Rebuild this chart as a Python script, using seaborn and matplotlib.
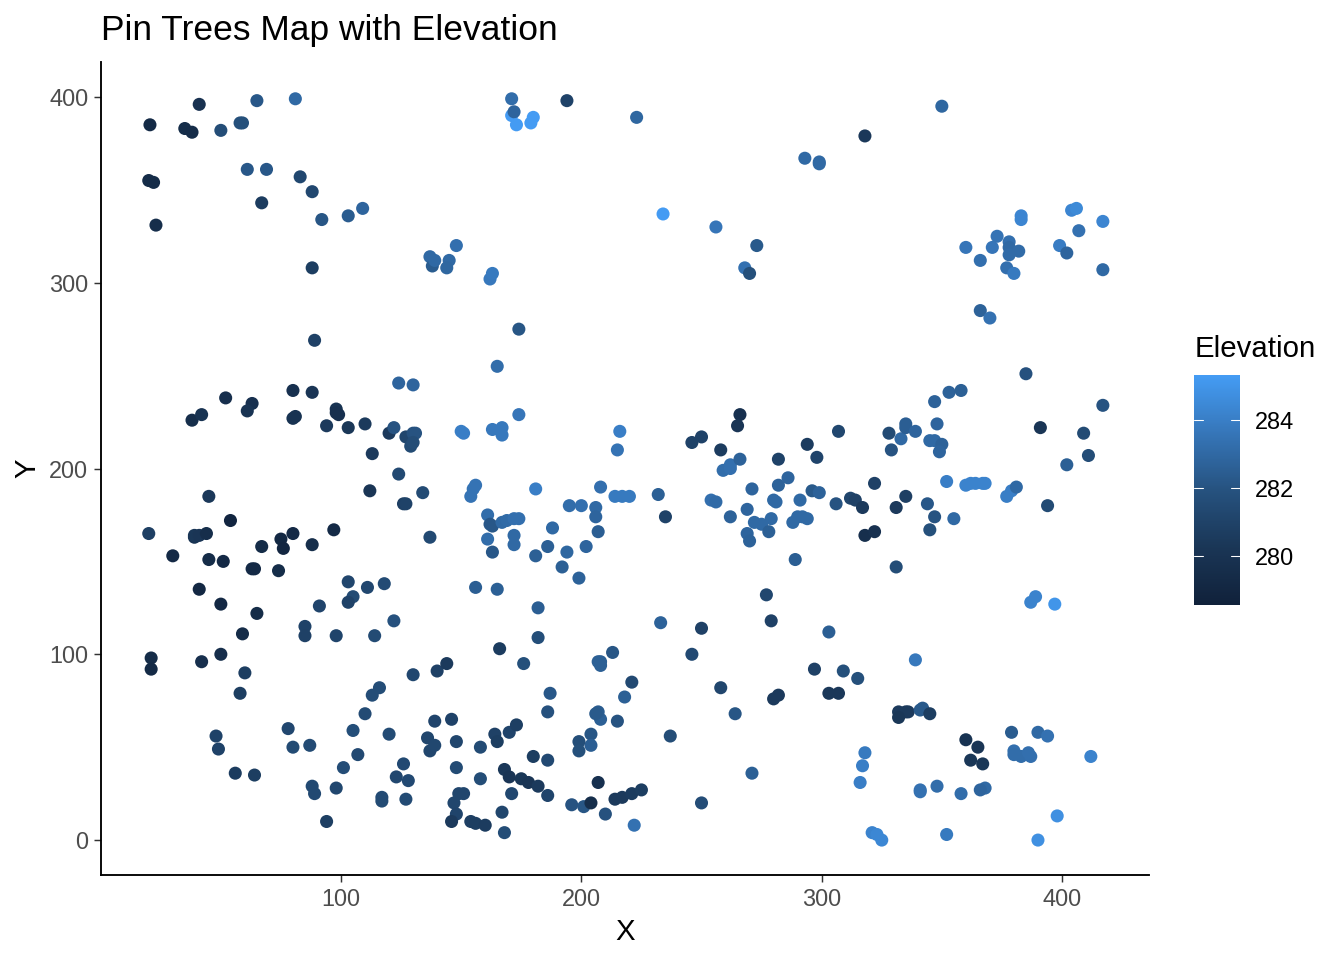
import numpy as np
import pandas as pd
import matplotlib
matplotlib.use('Agg')
import matplotlib.pyplot as plt
import seaborn as sns
from matplotlib.cm import ScalarMappable
from matplotlib.colors import LinearSegmentedColormap, Normalize

# values, one block per area of the map
nw_x = [20.5, 35, 38, 41, 50, 58, 59, 65, 81, 20, 22, 23, 61, 69, 67, 83, 88, 92, 103, 109, 88, 89]
nw_y = [385, 383, 381, 396, 382, 386, 386, 398, 399, 355, 354, 331, 361, 361, 343, 357, 349, 334, 336, 340, 308, 269]
nw_z = [279.3, 279.5, 279.4, 279.9, 281.6, 281.8, 281.8, 282.2, 283.0, 279.4, 279.4, 279.6, 282.2, 282.2, 280.6, 281.3, 281.3, 282.1, 282.4, 282.8, 280.7, 280.9]

n_x = [171, 171, 172, 173, 179, 180, 194, 223, 137, 138, 139, 145, 144, 148, 162, 163, 234, 174, 165]
n_y = [399, 390, 392, 385, 386, 389, 398, 389, 314, 309, 312, 312, 308, 320, 302, 305, 337, 275, 255]
n_z = [283.2, 285.3, 282.8, 285.3, 285.3, 285.3, 281.0, 282.9, 283.0, 282.4, 283.0, 283.0, 282.9, 283.3, 283.7, 283.8, 285.3, 282.1, 283.2]

ne_x = [256, 273, 268, 270, 293, 299, 299, 318, 350, 360, 366, 371, 373, 378, 378, 378, 377, 380, 382, 383, 383, 399, 402, 404, 406, 407, 417, 417, 366, 370, 385]
ne_y = [330, 320, 308, 305, 367, 365, 364, 379, 395, 319, 312, 319, 325, 322, 319, 315, 308, 305, 317, 336, 334, 320, 316, 339, 340, 328, 333, 307, 285, 281, 251]
ne_z = [283.6, 282.3, 283.4, 281.8, 283.0, 283.0, 283.0, 280.4, 282.9, 283.6, 283.3, 283.6, 283.5, 283.3, 283.0, 283.1, 283.3, 283.8, 283.1, 284.3, 284.3, 283.9, 282.8, 284.3, 284.5, 283.4, 284.3, 283.0, 282.7, 283.4, 281.9]

mid_w_x = [124, 130, 80, 88, 52, 63, 61, 38, 42, 80, 81, 94, 98, 98, 99, 103, 110, 120, 122, 127, 130, 131, 129, 130, 113, 124, 112, 126, 127, 134, 137]
mid_w_y = [246, 245, 242, 241, 238, 235, 231, 226, 229, 227, 228, 223, 232, 230, 229, 222, 224, 219, 222, 217, 219, 219, 212, 214, 208, 197, 188, 181, 181, 187, 163]
mid_w_z = [282.8, 282.8, 279.8, 280.2, 279.7, 279.8, 280.1, 279.6, 280.0, 280.0, 280.0, 280.5, 280.0, 279.8, 279.8, 280.3, 280.5, 280.5, 282.0, 281.2, 281.9, 282.0, 281.5, 281.6, 280.5, 281.4, 280.2, 280.8, 281.0, 281.5, 281.4]

mid_c_x = [150, 151, 163, 167, 167, 174, 156, 155, 154, 161, 162, 163, 161, 163, 167, 169, 172, 174, 172, 172, 181, 181, 186, 188, 192, 194, 195, 200, 199, 202, 206, 206, 207, 208, 214, 217, 220, 215, 216, 232, 235]
mid_c_y = [220, 219, 221, 222, 218, 229, 191, 189, 185, 175, 170, 169, 162, 155, 171, 172, 173, 173, 164, 159, 153, 189, 158, 168, 147, 155, 180, 180, 141, 158, 179, 174, 166, 190, 185, 185, 185, 210, 220, 186, 174]
mid_c_z = [284.0, 284.0, 283.7, 283.7, 283.7, 283.6, 283.5, 283.5, 283.5, 283.2, 282.2, 282.2, 283.2, 282.2, 283.0, 283.1, 283.3, 283.3, 283.0, 283.0, 282.6, 284.0, 282.6, 283.0, 282.6, 282.9, 283.2, 283.3, 282.7, 282.8, 283.0, 282.8, 282.5, 283.3, 283.8, 283.8, 283.8, 283.5, 284.0, 282.6, 281.0]

west_x = [20, 45, 30, 39, 39, 41, 44, 45, 51, 54, 67, 63, 64, 74, 75, 76, 80, 88, 97, 41, 50, 65, 59, 91, 85, 85, 98, 103, 105, 103, 111, 118, 122, 114, 21, 21, 42, 50, 60, 58]
west_y = [165, 185, 153, 163, 164, 164, 165, 151, 150, 172, 158, 146, 146, 145, 162, 157, 165, 159, 167, 135, 127, 122, 111, 126, 115, 110, 110, 139, 131, 128, 136, 138, 118, 110, 98, 92, 96, 100, 90, 79]
west_z = [280.8, 280.4, 279.2, 280.0, 280.3, 280.2, 279.6, 279.4, 279.2, 278.9, 279.4, 279.3, 279.2, 279.5, 279.1, 279.0, 279.2, 279.6, 279.3, 279.1, 279.1, 279.4, 279.4, 281.1, 281.0, 280.9, 281.1, 281.2, 281.5, 281.0, 281.3, 281.5, 281.9, 281.5, 279.4, 279.3, 279.7, 279.6, 280.7, 280.7]

mid_s_x = [156, 165, 182, 182, 166, 176, 233, 250, 246, 258, 264, 213, 207, 208, 208, 218, 221, 215, 208, 207, 206, 204, 204, 199, 199, 237]
mid_s_y = [136, 135, 125, 109, 103, 95, 117, 114, 100, 82, 68, 101, 96, 94, 96, 77, 85, 64, 65, 69, 68, 57, 51, 53, 48, 56]
mid_s_z = [282.5, 282.6, 282.5, 281.7, 280.6, 281.8, 282.7, 280.9, 281.4, 281.2, 282.1, 282.1, 282.6, 282.6, 282.6, 282.6, 281.4, 282.0, 282.6, 282.4, 282.3, 282.1, 282.5, 281.7, 281.8, 281.6]

east_x = [246, 250, 258, 266, 265, 259, 262, 262, 266, 282, 254, 256, 262, 269, 271, 272, 275, 269, 270, 278, 279, 280, 281, 282, 286, 288, 291, 290, 292, 294, 296, 299, 298, 294, 307, 289, 277, 279]
east_y = [214, 217, 210, 229, 223, 199, 200, 202, 205, 205, 183, 182, 174, 178, 189, 171, 170, 165, 161, 166, 173, 183, 182, 191, 195, 171, 183, 174, 174, 173, 188, 187, 206, 213, 220, 151, 132, 118]
east_z = [281.0, 281.0, 280.6, 279.8, 280.2, 283.2, 283.3, 283.3, 282.7, 281.0, 283.3, 283.1, 282.7, 282.8, 282.8, 283.0, 283.0, 282.8, 282.7, 282.6, 283.0, 283.0, 283.0, 282.7, 282.8, 283.0, 283.0, 283.0, 283.0, 283.0, 282.3, 282.7, 281.1, 280.6, 281.3, 282.5, 281.3, 280.9]

far_e_x = [306, 312, 314, 317, 318, 322, 322, 328, 329, 333, 335, 335, 339, 345, 347, 350, 349, 348, 347, 353, 358, 331, 335, 344, 347, 345, 355, 352, 360, 362, 364, 367, 368, 377, 379, 381, 394, 391, 409, 411, 402, 417, 331, 387, 389, 397]
far_e_y = [181, 184, 183, 179, 164, 166, 192, 219, 210, 216, 224, 222, 220, 215, 215, 213, 209, 224, 236, 241, 242, 179, 185, 181, 174, 167, 173, 193, 191, 192, 192, 192, 192, 185, 188, 190, 180, 222, 219, 207, 202, 234, 147, 128, 131, 127]
far_e_z = [282.0, 281.2, 280.9, 280.5, 279.7, 279.9, 280.9, 281.5, 282.0, 283.0, 282.5, 282.5, 282.8, 283.0, 283.0, 282.7, 282.8, 282.8, 282.7, 282.7, 282.6, 280.5, 280.8, 282.2, 282.0, 281.8, 283.0, 284.0, 284.2, 284.2, 284.2, 284.2, 284.2, 284.0, 284.0, 283.0, 281.5, 280.2, 281.5, 281.6, 282.6, 282.0, 281.6, 284.2, 284.2, 285.0]

se_x = [339, 332, 335, 336, 341, 342, 345, 332, 360, 365, 362, 367, 368, 366, 358, 348, 341, 341, 318, 317, 316, 321, 323, 325, 352, 390, 398, 412, 379, 390, 394, 380, 380, 383, 386, 387]
se_y = [97, 69, 69, 69, 70, 71, 68, 66, 54, 50, 43, 41, 28, 27, 25, 29, 27, 26, 47, 40, 31, 4, 3, 0, 3, 0, 13, 45, 58, 58, 56, 48, 46, 45, 47, 45]
se_z = [283.7, 280.5, 280.5, 280.5, 282.3, 282.3, 280.7, 280.3, 280.0, 280.2, 280.3, 280.3, 283.0, 282.8, 283.2, 283.2, 283.4, 283.4, 283.8, 284.0, 284.0, 284.2, 284.4, 284.4, 283.8, 284.8, 284.8, 284.2, 282.4, 283.0, 283.4, 283.3, 283.2, 283.2, 283.3, 283.3]

s_x = [48, 49, 56, 64, 78, 80, 87, 88, 89, 94, 98, 101, 105, 107, 110, 113, 116, 120, 123, 126, 128, 127, 117, 117, 130, 140, 144, 139, 146, 136, 137, 139, 148, 158, 164, 165, 170, 173]
s_y = [56, 49, 36, 35, 60, 50, 51, 29, 25, 10, 28, 39, 59, 46, 68, 78, 82, 57, 34, 41, 32, 22, 23, 21, 89, 91, 95, 64, 65, 55, 48, 51, 53, 50, 57, 53, 58, 62]
s_z = [281.0, 281.0, 280.6, 280.7, 281.3, 281.5, 281.5, 281.4, 281.4, 280.8, 281.3, 281.6, 281.7, 281.4, 281.5, 281.6, 281.6, 281.5, 281.3, 281.4, 281.4, 281.5, 281.5, 281.5, 281.3, 280.9, 280.5, 281.1, 281.0, 281.2, 281.2, 281.3, 281.2, 281.5, 280.9, 280.7, 281.1, 280.8]

s2_x = [148, 158, 168, 170, 171, 175, 178, 180, 186, 182, 186, 186, 187, 149, 151, 147, 148, 146, 154, 156, 160, 167, 168, 196, 201, 204, 207, 214, 217, 221, 225, 210, 222, 250]
s2_y = [39, 33, 38, 34, 25, 33, 31, 45, 43, 29, 24, 69, 79, 25, 25, 20, 14, 10, 10, 9, 8, 15, 4, 19, 18, 20, 31, 22, 23, 25, 27, 14, 8, 20]
s2_z = [281.5, 281.6, 280.4, 280.2, 281.3, 280.3, 280.2, 280.7, 281.4, 280.5, 281.1, 281.9, 282.2, 281.2, 281.2, 281.2, 281.1, 280.5, 280.8, 280.7, 280.6, 281.2, 281.6, 282.0, 282.1, 279.6, 279.8, 280.5, 280.5, 280.6, 280.7, 281.9, 283.4, 281.6]

lower_e_x = [303, 297, 309, 315, 303, 307, 282, 280, 271]
lower_e_y = [112, 92, 91, 87, 79, 79, 78, 76, 36]
lower_e_z = [282.5, 280.9, 281.8, 281.8, 280.4, 280.4, 280.5, 280.5, 282.6]

tree_x = nw_x + n_x + ne_x + mid_w_x + mid_c_x + west_x + mid_s_x + east_x + far_e_x + se_x + s_x + s2_x + lower_e_x
tree_y = nw_y + n_y + ne_y + mid_w_y + mid_c_y + west_y + mid_s_y + east_y + far_e_y + se_y + s_y + s2_y + lower_e_y
tree_z = nw_z + n_z + ne_z + mid_w_z + mid_c_z + west_z + mid_s_z + east_z + far_e_z + se_z + s_z + s2_z + lower_e_z

x_ticks = [100, 200, 300, 400]
y_ticks = [0, 100, 200, 300, 400]
elev_ticks = [280, 282, 284]
elev_min, elev_max = 278.55, 285.33

df = pd.DataFrame({'X': tree_x, 'Y': tree_y, 'Elevation': tree_z})

sns.set_theme(style='white')
plt.rcParams['font.family'] = ['Liberation Sans', 'DejaVu Sans']

elev_cmap = LinearSegmentedColormap.from_list('elev', ['#10213a', '#1a3656', '#26527f', '#3676b9', '#449cf4'])
elev_norm = Normalize(elev_min, elev_max)

W, H = 1344, 960
fig = plt.figure(figsize=(7, 5), dpi=192, facecolor='white')
ax = fig.add_axes([101 / W, 1 - 875 / H, 1048 / W, 813 / H])

sns.scatterplot(data=df, x='X', y='Y', hue='Elevation', palette=elev_cmap, hue_norm=elev_norm,
                legend=False, s=24, linewidth=0, ax=ax, clip_on=False)

ax.set_xlim(0.13, 436.2)
ax.set_ylim(-18.8, 418.8)
ax.set_xticks(x_ticks)
ax.set_yticks(y_ticks)
ax.tick_params(axis='both', length=2.75, width=0.55, color='#333333', labelsize=8.8,
               labelcolor='#4d4d4d', pad=2, bottom=True, left=True)
sns.despine(ax=ax)
for side in ['left', 'bottom']:
    ax.spines[side].set_linewidth(0.7)
    ax.spines[side].set_color('black')
ax.set_xlabel('X', fontsize=11, color='black', labelpad=2.8)
ax.set_ylabel('Y', fontsize=11, color='black', labelpad=3)
ax.set_title('Pin Trees Map with Elevation', loc='left', fontsize=13.25, color='black', pad=8.4)

# colour bar
cax = fig.add_axes([1194 / W, 1 - 605 / H, 46 / W, 230 / H])
cb = fig.colorbar(ScalarMappable(norm=elev_norm, cmap=elev_cmap), cax=cax)
cb.outline.set_visible(False)
cb.set_ticks(elev_ticks)
cax.tick_params(length=0, labelsize=8.8, labelcolor='black', pad=5.5)
for t in elev_ticks:
    cax.plot([0, 0.2], [t, t], color='white', lw=0.4, transform=cax.get_yaxis_transform())
    cax.plot([0.8, 1], [t, t], color='white', lw=0.4, transform=cax.get_yaxis_transform())
fig.text(1195 / W, 1 - 349 / H, 'Elevation', fontsize=11, color='black', va='center', ha='left')

fig.savefig('out.png', dpi=192)
